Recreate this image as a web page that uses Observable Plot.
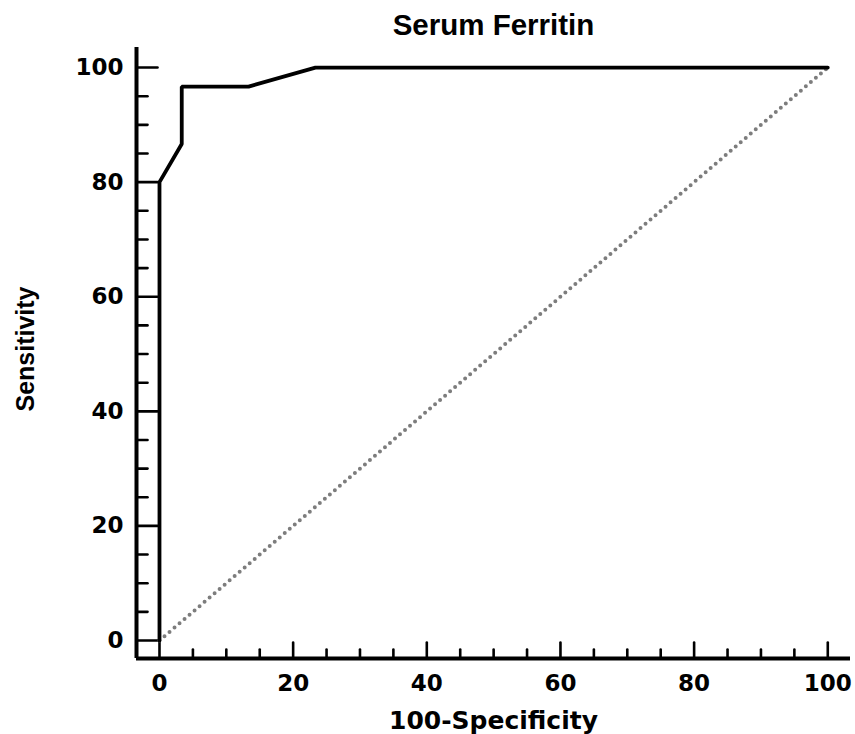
<!DOCTYPE html>
<html>
<head>
<meta charset="utf-8">
<script src="https://cdn.jsdelivr.net/npm/d3@7"></script>
<script src="https://cdn.jsdelivr.net/npm/@observablehq/plot@0.6"></script>
<style>
  html, body { margin: 0; padding: 0; background: #fff; }
</style>
</head>
<body>
<div id="chart"></div>
<script>
// ROC curve points (100-Specificity, Sensitivity)
const fpr = [0, 0, 3.33, 3.33, 13.33, 23.33, 100];
const tpr = [0, 80, 86.67, 96.67, 96.67, 100, 100];
// reference diagonal
const diagX = [0, 100];
const diagY = [0, 100];
// ticks
const majorTicks = [0, 20, 40, 60, 80, 100];
const minorTicks = [5, 10, 15, 25, 30, 35, 45, 50, 55, 65, 70, 75, 85, 90, 95];
const titleText = "Serum Ferritin";
const xLabel = "100-Specificity";
const yLabel = "Sensitivity";

const roc = fpr.map((x, i) => ({x, y: tpr[i]}));
const diag = diagX.map((x, i) => ({x, y: diagY[i]}));

const tickShape = { draw(ctx, l) { ctx.moveTo(0, 0); ctx.lineTo(0, -l); } };
const tickFont = { fontFamily: "DejaVu Sans, sans-serif", fontWeight: "bold", fontSize: 23 };

const chart = Plot.plot({
  width: 855,
  height: 734,
  marginLeft: 136,
  marginRight: 5,
  marginTop: 47,
  marginBottom: 76,
  style: { background: "#fff", color: "#000", overflow: "visible" },
  x: { domain: [-3.44, 103.4] },
  y: { domain: [-3.14, 103.5] },
  marks: [
    // axis labels (numbers)
    Plot.axisY(majorTicks, { ticks: majorTicks, tickSize: 0, tickPadding: 13, label: null, ...tickFont }),
    Plot.axisX(majorTicks, { ticks: majorTicks, tickSize: 0, tickPadding: 16, label: null, ...tickFont }),
    // inward ticks
    Plot.vector(majorTicks, { y: d => d, frameAnchor: "left", length: 21, rotate: 90, anchor: "start", shape: tickShape, stroke: "#000", strokeWidth: 2.6 }),
    Plot.vector(minorTicks, { y: d => d, frameAnchor: "left", length: 11, rotate: 90, anchor: "start", shape: tickShape, stroke: "#000", strokeWidth: 2.6 }),
    Plot.vector(majorTicks, { x: d => d, frameAnchor: "bottom", length: 16, rotate: 0, anchor: "start", shape: tickShape, stroke: "#000", strokeWidth: 2.6 }),
    Plot.vector(minorTicks, { x: d => d, frameAnchor: "bottom", length: 9, rotate: 0, anchor: "start", shape: tickShape, stroke: "#000", strokeWidth: 2.6 }),
    // axis lines
    Plot.ruleX([-3.44], { stroke: "#000", strokeWidth: 4 }),
    Plot.ruleY([-3.14], { stroke: "#000", strokeWidth: 4 }),
    // diagonal (dotted)
    Plot.line(diag, { x: "x", y: "y", stroke: "#7d7d7d", strokeWidth: 4, strokeDasharray: "0,6.6", strokeLinecap: "round" }),
    // ROC curve
    Plot.line(roc, { x: "x", y: "y", stroke: "#000", strokeWidth: 3.8, strokeLinejoin: "miter" }),
    // title and axis titles
    Plot.text([titleText], { frameAnchor: "top", lineAnchor: "bottom", dy: -13, fontFamily: "Liberation Sans, Arial, sans-serif", fontWeight: "bold", fontSize: 29.5, fill: "#000" }),
    Plot.text([xLabel], { frameAnchor: "bottom", lineAnchor: "bottom", dy: 70, fontFamily: "DejaVu Sans, sans-serif", fontWeight: "bold", fontSize: 25, fill: "#000" }),
    Plot.text([yLabel], { frameAnchor: "left", textAnchor: "middle", rotate: -90, dx: -111, dy: -4, fontFamily: "Liberation Sans, Arial, sans-serif", fontWeight: "bold", fontSize: 25, fill: "#000" })
  ]
});
document.getElementById("chart").appendChild(chart);
</script>
</body>
</html>
